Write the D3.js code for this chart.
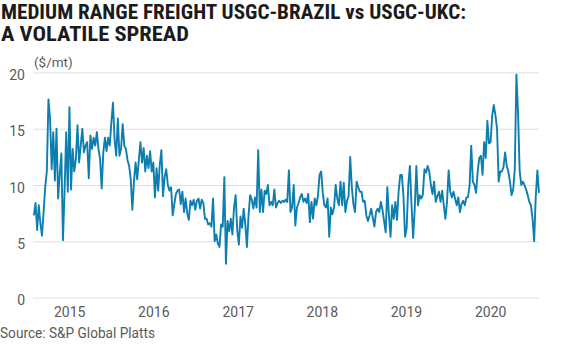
<!DOCTYPE html>
<html>
<head>
<meta charset="utf-8">
<script src="https://cdn.jsdelivr.net/npm/d3@7"></script>
<style>
  html, body { margin: 0; padding: 0; background: #fff; }
  svg { display: block; }
  .tick text { font-family: Roboto, "Open Sans", sans-serif; font-size: 14px; fill: #5a5a5a; }
</style>
</head>
<body>
<svg id="chart" width="561" height="348"></svg>
<script>
// Weekly spread, $/mt, first week starting 1 Aug 2014
const firstWeek = new Date(2014, 7, 1);

const spread2014 = [7.3, 8.4, 6.0, 8.2, 6.6, 5.5, 7.6, 9.8, 11.2, 17.6, 15.9, 11.4, 14.7, 10.4, 15.0, 8.8,
  11.0, 12.8, 5.1, 9.5, 14.7, 9.4];
const spread2015 = [16.9, 9.6, 13.2, 11.2, 12.3, 15.3, 12.0, 13.5, 15.0, 12.9, 13.5, 13.8, 10.6, 14.4, 13.2,
  14.2, 13.5, 14.7, 13.2, 12.3, 9.7, 12.9, 14.2, 13.0, 14.2, 13.5, 15.6, 17.3, 14.0, 12.6, 15.9, 12.6, 13.2,
  15.4, 13.5, 13.2, 12.2, 11.7, 10.5, 7.8, 10.3, 12.0, 10.5, 12.2, 13.8, 12.0, 13.3, 11.2, 12.6, 11.5, 13.0, 11.2];
const spread2016 = [12.0, 8.9, 11.5, 9.5, 11.8, 13.1, 9.0, 10.7, 11.4, 10.0, 9.5, 9.8, 7.3, 8.3, 9.2, 9.5,
  9.6, 8.3, 9.4, 7.6, 8.8, 7.5, 6.9, 8.6, 8.2, 8.7, 7.8, 8.6, 8.8, 7.9, 8.7, 8.4, 7.0, 7.0, 6.5, 6.6, 6.3,
  8.8, 5.0, 5.6, 4.8, 4.5, 6.5, 6.3, 10.7, 3.0, 6.8, 5.9, 7.0, 5.6, 8.0, 9.1, 6.0];
const spread2017 = [4.7, 7.2, 6.2, 7.9, 6.5, 4.5, 7.3, 9.1, 8.7, 7.9, 8.9, 8.0, 13.1, 7.6, 9.6, 7.6, 9.5,
  9.2, 10.0, 8.2, 8.5, 8.2, 9.6, 8.0, 8.4, 8.6, 8.4, 8.6, 8.5, 8.7, 8.5, 11.3, 7.6, 8.0, 10.0, 6.4, 8.0,
  8.4, 8.9, 9.2, 8.5, 8.8, 8.4, 9.2, 6.7, 8.5, 7.0, 8.8, 8.2, 9.0, 10.9, 11.2];
const spread2018 = [9.3, 8.2, 8.0, 8.8, 5.4, 8.0, 7.4, 8.0, 10.0, 8.8, 8.2, 10.3, 8.2, 10.2, 7.6, 8.6, 9.0,
  12.5, 9.8, 8.3, 7.6, 10.3, 9.8, 9.4, 9.4, 8.5, 8.6, 7.3, 6.8, 7.3, 7.9, 7.1, 6.3, 7.6, 7.9, 7.6, 8.5,
  7.8, 6.8, 5.8, 9.8, 7.3, 5.4, 8.2, 7.0, 8.5, 6.9, 9.4, 10.9, 10.9, 9.0, 5.4];
const spread2019 = [6.2, 10.0, 11.7, 8.2, 5.3, 7.9, 11.7, 8.2, 9.1, 8.8, 9.1, 11.4, 11.1, 11.7, 11.2, 10.0,
  9.2, 10.3, 8.5, 9.0, 9.4, 8.5, 9.5, 8.2, 7.0, 8.5, 11.3, 9.4, 8.9, 9.4, 8.8, 8.2, 8.9, 7.6, 8.3, 8.6,
  8.2, 8.9, 8.9, 10.0, 13.5, 10.3, 10.0, 9.3, 11.2, 12.4, 12.6, 10.9, 13.8, 12.4, 15.7, 13.7];
const spread2020 = [13.8, 16.2, 17.1, 16.2, 15.0, 10.3, 11.2, 11.2, 11.6, 12.9, 11.7, 11.2, 10.3, 9.1, 9.6,
  11.4, 19.8, 16.5, 11.3, 10.0, 10.3, 10.0, 9.6, 9.1, 8.5, 8.2, 7.0, 5.0, 9.0, 11.3, 9.3];

const yTicks = [0, 5, 10, 15, 20];
const yearTicks = [2015, 2016, 2017, 2018, 2019, 2020];

const spread = [].concat(spread2014, spread2015, spread2016, spread2017, spread2018, spread2019, spread2020);
const series = spread.map((v, i) => ({ date: d3.timeDay.offset(firstWeek, 7 * i), value: v }));

const svg = d3.select("#chart");
const plotLeft = 33, plotRight = 539, plotTop = 72.4, plotBottom = 297.6;

const x = d3.scaleTime()
  .domain([new Date(2014, 6, 28), new Date(2020, 6, 31)])
  .range([plotLeft, plotRight]);
const y = d3.scaleLinear().domain([0, 20]).range([plotBottom, plotTop]);

// Title
const titleFont = '"Roboto Condensed", "DejaVu Sans Condensed", "Liberation Sans Narrow", Roboto, sans-serif';
svg.append("text")
  .attr("x", 1).attr("y", 19)
  .attr("font-family", titleFont).attr("font-weight", 700).attr("font-size", 19.5)
  .attr("fill", "#1b1b1b")
  .attr("textLength", 465).attr("lengthAdjust", "spacingAndGlyphs")
  .text("MEDIUM RANGE FREIGHT USGC-BRAZIL vs USGC-UKC:");
svg.append("text")
  .attr("x", 1).attr("y", 41)
  .attr("font-family", titleFont).attr("font-weight", 700).attr("font-size", 19.5)
  .attr("fill", "#1b1b1b")
  .attr("textLength", 188).attr("lengthAdjust", "spacingAndGlyphs")
  .text("A VOLATILE SPREAD");

// Unit label
svg.append("text")
  .attr("x", 34).attr("y", 67)
  .attr("font-family", "Roboto, sans-serif").attr("font-size", 13.5)
  .attr("fill", "#5a5a5a")
  .text("($/mt)");

// Y axis with gridlines
const yAxis = svg.append("g")
  .attr("transform", `translate(${plotLeft},0)`)
  .call(d3.axisLeft(y).tickValues(yTicks).tickSize(-(plotRight - plotLeft)).tickPadding(8));
yAxis.select(".domain").remove();
yAxis.selectAll(".tick line").attr("stroke", "#dedede").attr("stroke-width", 1);
yAxis.selectAll(".tick text").attr("dy", "0.5em");

// X axis, year labels at 1 January
const xAxis = svg.append("g")
  .attr("transform", `translate(0,${plotBottom})`)
  .call(d3.axisBottom(x)
    .tickValues(yearTicks.map(yr => new Date(yr, 0, 1)))
    .tickFormat(d3.timeFormat("%Y"))
    .tickSize(0).tickPadding(9));
xAxis.select(".domain").remove();

// Spread line
const line = d3.line()
  .x(d => x(d.date))
  .y(d => y(d.value));
svg.append("path")
  .datum(series)
  .attr("d", line)
  .attr("fill", "none")
  .attr("stroke", "#0d7eb0")
  .attr("stroke-width", 1.9)
  .attr("stroke-linejoin", "round");

// Source note
svg.append("text")
  .attr("x", 0).attr("y", 338)
  .attr("font-family", "Roboto, sans-serif").attr("font-size", 14)
  .attr("fill", "#5a5a5a")
  .attr("textLength", 155).attr("lengthAdjust", "spacingAndGlyphs")
  .text("Source: S&P Global Platts");
</script>
</body>
</html>
